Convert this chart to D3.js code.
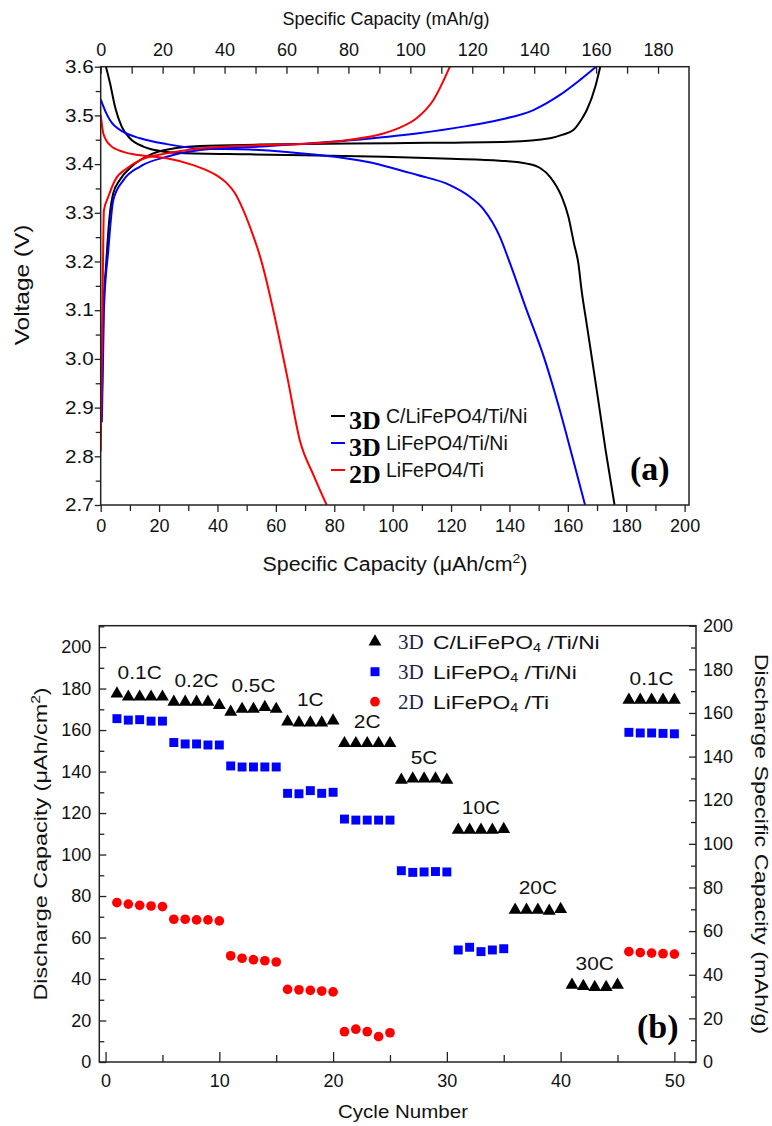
<!DOCTYPE html>
<html>
<head>
<meta charset="utf-8">
<script src="https://cdn.jsdelivr.net/npm/d3@7"></script>
<style>
  body { margin: 0; background: #fff; }
</style>
</head>
<body>
<div id="chart"></div>
<script>
let d3 = window.d3;

// ---------- (a) charge / discharge curves: [capacity uAh/cm2, voltage V]
const c3dDischarge = [[1.8,3.6],[3.2,3.566],[4.9,3.518],[7.2,3.477],[10,3.453],[14.6,3.436],[20.3,3.427],[27.2,3.423],
  [51,3.42],[97,3.415],[120,3.411],[136.7,3.407],[146,3.401],[150.5,3.392],[153.9,3.374],[157.9,3.333],[160.2,3.292],
  [162.1,3.237],[163.6,3.196],[164.7,3.141],[166.5,3.07],[170.3,2.92],[173,2.81],[176,2.7]];
const c3dCharge = [[0.3,2.88],[0.9,3.1],[1.8,3.189],[3.0,3.29],[4.3,3.34],[6.6,3.368],[10.6,3.395],[18,3.422],[24.9,3.432],
  [34,3.437],[54.6,3.44],[100,3.443],[140,3.446],[153.9,3.453],[158,3.46],[161.9,3.47],[164.5,3.49],[166.5,3.511],
  [169.4,3.559],[171.1,3.6]];
const lfp3dDischarge = [[0,3.533],[1.5,3.51],[3.2,3.49],[7.8,3.466],[13.5,3.453],[22.6,3.441],[34,3.432],[51,3.43],
  [74,3.419],[91.1,3.405],[108.2,3.378],[119.6,3.357],[126,3.335],[131,3.308],[136.7,3.251],[140.2,3.196],[145.9,3.1],
  [152,3.0],[157,2.9],[161.5,2.8],[165.9,2.7]];
const lfp3dCharge = [[0.4,2.87],[1.1,3.1],[2.6,3.223],[4.3,3.326],[7.8,3.367],[13.5,3.395],[22.6,3.415],[34,3.429],
  [54.6,3.436],[85.4,3.449],[108.2,3.463],[125.3,3.478],[136.7,3.491],[148.2,3.511],[157.3,3.542],[164.2,3.573],[169.7,3.6]];
const lfp2dDischarge = [[0,3.501],[0.9,3.463],[3.2,3.439],[7.8,3.425],[13.5,3.418],[22.6,3.412],[31.7,3.398],[36,3.388],
  [39.7,3.377],[43,3.362],[46,3.34],[48.5,3.31],[51.5,3.265],[54.6,3.21],[57,3.155],[59.1,3.1],[64,2.96],[68.2,2.833],
  [73,2.76],[77.4,2.7]];
const lfp2dCharge = [[0,2.81],[0.6,3.1],[1.1,3.305],[2.6,3.333],[4.9,3.367],[8.9,3.391],[13.5,3.408],[22.6,3.422],
  [34,3.432],[54.6,3.439],[74,3.443],[85.4,3.45],[96.8,3.463],[102.5,3.475],[108.2,3.494],[113.9,3.531],[119.6,3.6]];

// ---------- (b) rate capability, uAh/cm2 per cycle (null = not measured)
const cycles = [1,2,3,4,5,6,7,8,9,10,11,12,13,14,15,16,17,18,19,20,21,22,23,24,25,
  26,27,28,29,30,31,32,33,34,35,36,37,38,39,40,41,42,43,44,45,46,47,48,49,50];
const cap3dC = [177.5,176,176,176,176, 173.5,173.5,173.5,173.5,172, 168.7,170.1,170.1,171,170.1,
  164,163.5,163.5,163.5,164.5, 153.6,153.6,153.6,153.6,153.6, 135.9,136.5,136.5,136.5,135.9,
  111.8,111.8,111.8,111.8,112.2, 73.3,73.3,73.3,72.8,73.6, 37.1,36.5,36,36,37.1, 174.5,174.5,174.5,174.5,174.5];
const cap3dLFP = [165.5,164.8,165,164.3,164.3, 154,153.3,153.3,152.8,152.8, 142.7,142.2,142.2,142.2,142.2,
  129.5,129.3,130.8,129.5,130, 117.1,116.6,116.6,116.6,116.6, 92.2,91.4,91.6,91.8,91.6,
  54,55.3,53.2,54,54.6, null,null,null,null,null, null,null,null,null,null, 158.9,158.6,158.6,158.4,158.2];
const cap2dLFP = [76.8,76.1,75.5,75.2,74.9, 68.8,68.8,68.5,68.5,68.0, 51.2,50,49.3,48.8,48.2,
  35,34.8,34.5,34.2,33.8, 14.6,15.8,14.6,12.2,14.1, null,null,null,null,null,
  null,null,null,null,null, null,null,null,null,null, null,null,null,null,null, 53.2,52.7,52.5,52.2,52];
const rateLabels = ["0.1C","0.2C","0.5C","1C","2C","5C","10C","20C","30C","0.1C"];
const rateCycles = [3,8,13,18,23,28,33,38,43,48];

const SANS = "'Liberation Sans', Arial, sans-serif";
const SERIF = "'Liberation Serif', 'Times New Roman', serif";

const svg = d3.select("#chart").append("svg")
  .attr("width", 772).attr("height", 1126)
  .style("background", "#fff");

// text helper; sx stretches along the text direction
function txt(g, str, x, y, o = {}) {
  let t = g.append("text")
    .attr("transform", `translate(${x},${y})` + (o.rot ? ` rotate(${o.rot})` : "") + ` scale(${o.sx || 1},1)`)
    .attr("text-anchor", o.anchor || "start")
    .style("font-family", o.serif ? SERIF : SANS)
    .style("font-size", (o.size || 18) + "px")
    .style("font-weight", o.bold ? "bold" : "normal")
    .attr("fill", o.fill || "#111");
  if (str != null) t.text(str);
  return t;
}

function styleAxis(g, size, sx) {
  g.select(".domain").remove();
  g.selectAll(".tick line").attr("stroke", "#222").attr("stroke-width", 1.3);
  g.selectAll(".tick text")
    .style("font-family", SANS).style("font-size", size + "px").attr("fill", "#111")
    .each(function () {
      let t = d3.select(this);
      let x = +t.attr("x") || 0, y = +t.attr("y") || 0;
      t.attr("transform", `translate(${x},${y}) scale(${sx},1)`).attr("x", null).attr("y", null);
    });
}

function frame(box) {
  svg.append("rect")
    .attr("x", box.l).attr("y", box.t)
    .attr("width", box.r - box.l).attr("height", box.b - box.t)
    .attr("fill", "none").attr("stroke", "#222").attr("stroke-width", 1.5);
}

//------------------------------------------------------------------ PANEL (a)
const A = { l: 100.7, r: 689, t: 66.7, b: 505 };
const xA = d3.scaleLinear().domain([0, 201.5]).range([A.l, A.r]);
const xAg = d3.scaleLinear().domain([0, 190]).range([A.l, A.r]);
const yA = d3.scaleLinear().domain([2.7, 3.6]).range([A.b, A.t]);

svg.append("clipPath").attr("id", "clipA").append("rect")
  .attr("x", A.l).attr("y", A.t).attr("width", A.r - A.l).attr("height", A.b - A.t);

const lineA = d3.line()
  .x(d => xA(d[0])).y(d => yA(d[1]))
  .curve(d3.curveMonotoneX);

const curves = [
  [c3dDischarge, "#000"], [c3dCharge, "#000"],
  [lfp3dDischarge, "#0000ff"], [lfp3dCharge, "#0000ff"],
  [lfp2dDischarge, "#ff0000"], [lfp2dCharge, "#ff0000"]
];
const gc = svg.append("g").attr("clip-path", "url(#clipA)");
gc.selectAll("path").data(curves).join("path")
  .attr("d", d => lineA(d[0]))
  .attr("fill", "none")
  .attr("stroke", d => d[1])
  .attr("stroke-width", 2);

// axes of (a)
let ax = svg.append("g").attr("transform", `translate(0,${A.b})`)
  .call(d3.axisBottom(xA).tickValues(d3.range(0, 201, 20)).tickSize(7).tickPadding(7));
styleAxis(ax, 18, 1);
ax = svg.append("g").attr("transform", `translate(0,${A.b})`)
  .call(d3.axisBottom(xA).tickValues(d3.range(10, 200, 20)).tickSize(6).tickFormat(""));
styleAxis(ax, 18, 1);
ax = svg.append("g").attr("transform", `translate(0,${A.t})`)
  .call(d3.axisTop(xAg).tickValues(d3.range(0, 181, 20)).tickSize(-7).tickPadding(11));
styleAxis(ax, 18, 1);
ax = svg.append("g").attr("transform", `translate(0,${A.t})`)
  .call(d3.axisTop(xAg).tickValues(d3.range(10, 190, 20)).tickSize(-7).tickFormat(""));
styleAxis(ax, 18, 1);
ax = svg.append("g").attr("transform", `translate(${A.l},0)`)
  .call(d3.axisLeft(yA).tickValues(yA.ticks(9)).tickSize(6).tickPadding(1).tickFormat(d3.format(".1f")));
styleAxis(ax, 18, 1.15);
ax = svg.append("g").attr("transform", `translate(${A.l},0)`)
  .call(d3.axisLeft(yA).tickValues(yA.ticks(18).filter((d, i) => i % 2 === 1)).tickSize(5).tickFormat(""));
styleAxis(ax, 18, 1);
frame(A);

txt(svg, "Specific Capacity (mAh/g)", 386, 25, { anchor: "middle", size: 18 });
let tt = txt(svg, null, 395, 571, { anchor: "middle", size: 20, sx: 1.07 });
tt.append("tspan").text("Specific Capacity (\u03bcAh/cm");
tt.append("tspan").text("2").attr("dy", -8).style("font-size", "13px");
tt.append("tspan").text(")").attr("dy", 8);
txt(svg, "Voltage (V)", 29, 285, { anchor: "middle", size: 20, rot: -90, sx: 1.22 });

// legend of (a)
const legA = [["3D", "C/LiFePO4/Ti/Ni", "#000"], ["3D", "LiFePO4/Ti/Ni", "#0000ff"], ["2D", "LiFePO4/Ti", "#ff0000"]];
legA.forEach((d, i) => {
  let y = 416 + i * 27;
  svg.append("line").attr("x1", 331).attr("x2", 345).attr("y1", y).attr("y2", y)
    .attr("stroke", d[2]).attr("stroke-width", 2);
  txt(svg, d[0], 349, y + 13, { serif: true, bold: true, size: 26, fill: "#000" });
  txt(svg, d[1], 386, y + 7, { size: 19.5 });
});
txt(svg, "(a)", 630, 480, { serif: true, bold: true, size: 34, fill: "#000" });

//------------------------------------------------------------------ PANEL (b)
const B = { l: 99.3, r: 696, t: 625.7, b: 1062 };
const xB = d3.scaleLinear().domain([-0.55, 51.9]).range([B.l, B.r]);
const yB = d3.scaleLinear().domain([0, 210.3]).range([B.b, B.t]);
const yB2 = d3.scaleLinear().domain([0, 200]).range([B.b, B.t]);

ax = svg.append("g").attr("transform", `translate(0,${B.b})`)
  .call(d3.axisBottom(xB).tickValues(d3.range(0, 51, 10)).tickSize(-10).tickPadding(12));
styleAxis(ax, 18, 1);
ax = svg.append("g").attr("transform", `translate(0,${B.b})`)
  .call(d3.axisBottom(xB).tickValues(d3.range(5, 50, 10)).tickSize(-7).tickFormat(""));
styleAxis(ax, 18, 1);
ax = svg.append("g").attr("transform", `translate(${B.l},0)`)
  .call(d3.axisLeft(yB).tickValues(d3.range(0, 201, 20)).tickSize(-7).tickPadding(8));
styleAxis(ax, 18, 1);
ax = svg.append("g").attr("transform", `translate(${B.l},0)`)
  .call(d3.axisLeft(yB).tickValues(d3.range(10, 211, 20)).tickSize(-5).tickFormat(""));
styleAxis(ax, 18, 1);
ax = svg.append("g").attr("transform", `translate(${B.r},0)`)
  .call(d3.axisRight(yB2).tickValues(d3.range(0, 201, 20)).tickSize(-7).tickPadding(7));
styleAxis(ax, 18, 1);
ax = svg.append("g").attr("transform", `translate(${B.r},0)`)
  .call(d3.axisRight(yB2).tickValues(d3.range(10, 200, 20)).tickSize(-5).tickFormat(""));
styleAxis(ax, 18, 1);
frame(B);

const series = [
  { vals: cap3dC, sym: d3.symbolTriangle, size: 72, color: "#000" },
  { vals: cap3dLFP, sym: d3.symbolSquare, size: 80, color: "#0000ff" },
  { vals: cap2dLFP, sym: d3.symbolCircle, size: 74, color: "#ff0000" }
];
series.forEach(s => {
  let pts = cycles.map((c, i) => [c, s.vals[i]]).filter(p => p[1] != null);
  svg.append("g").selectAll("path").data(pts).join("path")
    .attr("transform", d => `translate(${xB(d[0])},${yB(d[1])})`)
    .attr("d", d3.symbol(s.sym, s.size))
    .attr("fill", s.color);
});

// C-rate labels above each group of triangles
rateLabels.forEach((lab, i) => {
  let c = rateCycles[i];
  let top = d3.max(cap3dC.slice(c - 3, c + 2));
  txt(svg, lab, xB(c), yB(top) - 15, { anchor: "middle", size: 19, sx: 1.1 });
});

// legend of (b)
const legB = [["3D", "C/LiFePO", " /Ti/Ni"], ["3D", "LiFePO", " /Ti/Ni"], ["2D", "LiFePO", " /Ti"]];
legB.forEach((d, i) => {
  let y = 641.7 + i * 30;
  let s = series[i];
  svg.append("path").attr("transform", `translate(375,${y})`)
    .attr("d", d3.symbol(s.sym, s.size)).attr("fill", s.color);
  txt(svg, d[0], 398, y + 7, { serif: true, size: 21, fill: "#1d1d4a" });
  let t = txt(svg, null, 433, y + 7, { size: 19, sx: 1.2 });
  t.append("tspan").text(d[1]);
  t.append("tspan").text("4").attr("dy", 3).style("font-size", "12px");
  t.append("tspan").text(d[2]).attr("dy", -3);
});
txt(svg, "(b)", 637, 1038, { serif: true, bold: true, size: 34, fill: "#000" });

txt(svg, "Cycle Number", 403, 1118, { anchor: "middle", size: 18, sx: 1.14 });
tt = txt(svg, null, 47, 844, { anchor: "middle", size: 18, rot: -90, sx: 1.3 });
tt.append("tspan").text("Discharge Capacity (\u03bcAh/cm");
tt.append("tspan").text("2").attr("dy", -7).style("font-size", "12px");
tt.append("tspan").text(")").attr("dy", 7);
txt(svg, "Discharge Specific Capacity (mAh/g)", 755, 844, { anchor: "middle", size: 18, rot: 90, sx: 1.3 });
</script>
</body>
</html>
